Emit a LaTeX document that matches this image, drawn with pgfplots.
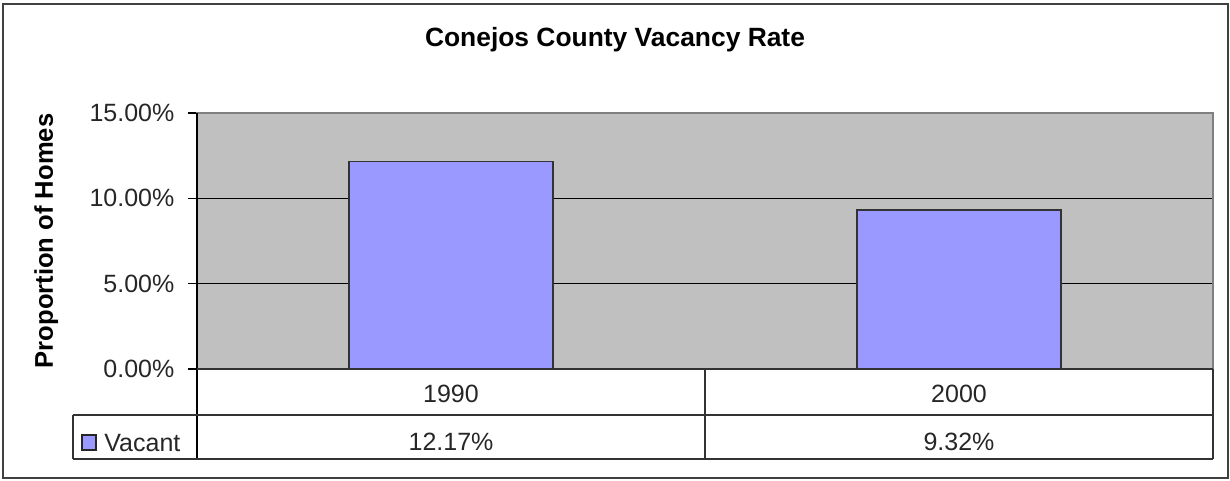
\documentclass[border=0pt]{standalone}
\usepackage{fontspec}
\setmainfont{Liberation Sans}
\usepackage{pgfplots}
\pgfplotsset{compat=1.18}
\definecolor{plotgray}{HTML}{C0C0C0}
\definecolor{barcol}{HTML}{9999FF}
\definecolor{edge}{HTML}{333333}
\begin{document}
\begin{tikzpicture}[font=\fontsize{12.5}{15}\selectfont, x=1pt, y=1pt]
\useasboundingbox (-98.5,-56) rectangle (516.5,184.5);
\draw[draw=black!75, line width=0.8pt] (-97,182.5) rectangle (515.5,-54.5);
\begin{axis}[
  scale only axis,
  width=508pt, height=128pt,
  xmin=-0.5, xmax=1.5,
  ymin=0, ymax=15,
  ytick={0,5,10,15},
  xtick=\empty,
  yticklabel={\pgfmathprintnumber[fixed,fixed zerofill,precision=2]{\tick}\%},
  /pgf/number format/assume math mode=true,
  yticklabel style={xshift=-3.3pt, font=\fontsize{12.5}{15}\selectfont, text=black!85},
  tick align=outside,
  major tick length=4.5pt,
  y tick style={black, line width=0.7pt},
  ytick pos=left,
  ymajorgrids,
  grid style={black, line width=0.8pt},
  axis background/.style={fill=plotgray},
  axis line style={draw=black!50, line width=0.75pt},
  ybar, bar width=102pt, bar shift=0pt,
  clip=false,
]
\addplot[fill=barcol, draw=edge, line width=0.75pt] coordinates {(0,12.17) (1,9.32)};
\node[anchor=base, text=black!85] at (axis cs:0,0) [yshift=-16.5pt] {1990};
\node[anchor=base, text=black!85] at (axis cs:1,0) [yshift=-16.5pt] {2000};
\node[anchor=base, text=black!85] at (axis cs:0,0) [yshift=-40.5pt] {12.17\%};
\node[anchor=base, text=black!85] at (axis cs:1,0) [yshift=-40.5pt] {9.32\%};
\end{axis}
% axis left and bottom lines, data table grid
\draw[black, line width=0.75pt] (0,128) -- (0,-45);
\draw[black!80, line width=0.75pt] (0,0) -- (508,0);
\draw[black!80, line width=0.75pt] (-62,-23) -- (508,-23);
\draw[black!80, line width=0.75pt] (-62,-45) -- (508,-45);
\draw[black!80, line width=0.75pt] (-62,-23) -- (-62,-45);
\draw[black!80, line width=0.75pt] (254,0) -- (254,-45);
\draw[black!80, line width=0.75pt] (508,0) -- (508,-45);
% legend key
\draw[fill=barcol, draw=black!85, line width=0.6pt] (-57.5,-33) rectangle (-50.5,-40.5);
\node[anchor=base west, inner sep=0pt, text=black!85] at (-46.5,-41) {Vacant};
% title and y label
\node[anchor=base, font=\fontsize{13.2}{16}\selectfont\bfseries] at (209,161) {Conejos County Vacancy Rate};
\node[anchor=base, rotate=90, font=\fontsize{12.8}{15}\selectfont\bfseries] at (-72,64) {Proportion of Homes};
\end{tikzpicture}
\end{document}
